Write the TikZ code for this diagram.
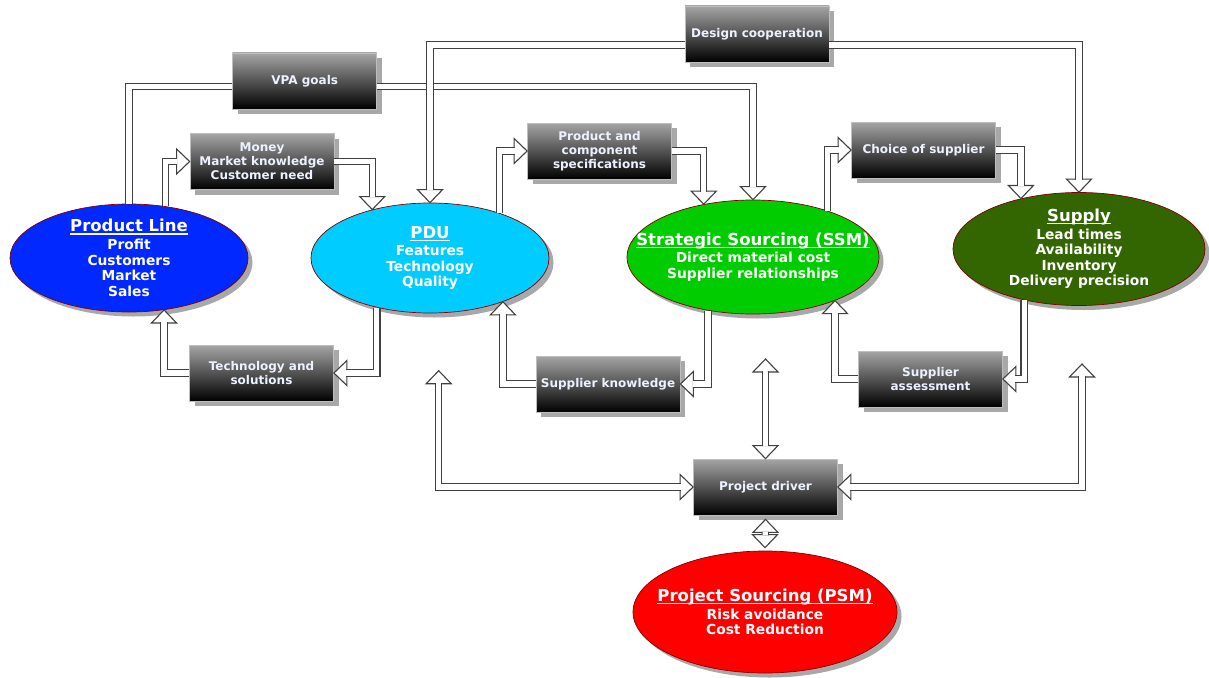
\documentclass[tikz,border=0pt]{standalone}
\usepackage{fontspec}
\setmainfont{DejaVu Sans}
\usetikzlibrary{shapes.geometric,shadows,calc}

\definecolor{linecol}{RGB}{64,64,64}
\definecolor{shadowcol}{RGB}{168,168,168}
\definecolor{boxtop}{RGB}{165,165,165}
\definecolor{boxedge}{RGB}{190,190,190}
\definecolor{boxtext}{RGB}{236,241,255}
\definecolor{rimcol}{RGB}{128,0,0}
\definecolor{plblue}{RGB}{0,40,255}
\definecolor{pducyan}{RGB}{0,204,255}
\definecolor{ssmgreen}{RGB}{0,204,0}
\definecolor{supgreen}{RGB}{51,102,0}
\definecolor{psmred}{RGB}{255,0,0}

% underlined ellipse title
\newcommand\ulx[1]{\setbox0=\hbox{#1}\rlap{\rule[-2.6pt]{\wd0}{1.1pt}}\box0}
\newcommand\ttl[1]{{\fontsize{16.5}{18}\selectfont\ulx{#1}}}

\tikzset{
  ellnode/.style={ellipse, inner sep=0pt, draw=rimcol, line width=0.7pt,
    drop shadow={shadow xshift=4.5pt, shadow yshift=-4.5pt, fill=shadowcol, opacity=1}},
  elltxt/.style={text=white, align=center, inner sep=0pt,
    font=\bfseries\fontsize{13.8}{15.6}\selectfont},
  boxnode/.style={rectangle, minimum width=144pt, minimum height=56pt, inner sep=0pt,
    draw=boxedge, line width=0.8pt, top color=boxtop, bottom color=black,
    drop shadow={shadow xshift=5pt, shadow yshift=-5pt, fill=shadowcol, opacity=1},
    text=boxtext, align=center, font=\bfseries\fontsize{12}{14}\selectfont},
  shaft/.style={draw=linecol, line width=1.1pt, double=white, double distance=5.2pt, line join=miter},
  tipend/.style={shorten >=12.4pt},
  tipstart/.style={shorten <=12.4pt},
  tipshape/.style={draw=linecol, fill=white, line width=1.1pt, line join=miter},
  head/.pic={\path[tipshape] (0,0) -- (-13,12.5) -- (-13,-12.5) -- cycle;}
}

\begin{document}
\begin{tikzpicture}[x=1pt,y=-1pt]
\useasboundingbox (0,0) rectangle (1209,677);
\fill[white] (0,0) rectangle (1209,677);

% ---- ellipses ----
\node[ellnode, fill=plblue,   minimum width=238pt, minimum height=108pt] (pl)  at (129,258) {};
\node[ellnode, fill=pducyan,  minimum width=238pt, minimum height=110pt] (pdu) at (430,258) {};
\node[ellnode, fill=ssmgreen, minimum width=252pt, minimum height=114pt] (ssm) at (753,257) {};
\node[ellnode, fill=supgreen, minimum width=252pt, minimum height=113pt] (sup) at (1079,249) {};
\node[ellnode, fill=psmred,   minimum width=264pt, minimum height=122pt] (psm) at (765,612) {};

\node[elltxt] (pl-t)  at (pl)  {\ttl{Product Line}\\[2pt]Profit\\Customers\\Market\\Sales};
\node[elltxt] (pdu-t) at (pdu) {\ttl{PDU}\\[2pt]Features\\Technology\\Quality};
\node[elltxt] (ssm-t) at (ssm) {\ttl{Strategic Sourcing (SSM)}\\[2pt]Direct material cost\\Supplier relationships};
\node[elltxt] (sup-t) at (sup) {\ttl{Supply}\\[2pt]Lead times\\Availability\\Inventory\\Delivery precision};
\node[elltxt] (psm-t) at (psm) {\ttl{Project Sourcing (PSM)}\\[2pt]Risk avoidance\\Cost Reduction};

% ---- boxes ----
\node[boxnode] (vpa) at (304.7,81)   {VPA goals};
\node[boxnode] (des) at (757,34)     {Design cooperation};
\node[boxnode] (mon) at (262,161.5)  {Money\\Market knowledge\\Customer need};
\node[boxnode] (tec) at (261.5,373)  {Technology and\\solutions};
\node[boxnode] (pcs) at (599.5,151)  {Product and\\component\\specifications};
\node[boxnode] (skn) at (608,384)    {Supplier knowledge};
\node[boxnode] (cos) at (923.5,150)  {Choice of supplier};
\node[boxnode] (sas) at (930.5,379)  {Supplier\\assessment};
\node[boxnode] (pd)  at (765.5,487)  {Project driver};

% ---- VPA goals: Product Line -> SSM ----
\draw[shaft] (pl.north) |- ($(vpa.west)+(0,5.7)$);
\pic[rotate=-90] at (ssm.north) {head};
\draw[shaft, tipend] ($(vpa.east)+(0,5.7)$) -| (ssm.north);

% ---- Design cooperation: PDU <-> Supply ----
\pic[rotate=-90] at (pdu.north) {head};
\draw[shaft, tipend] ($(des.west)+(0,11)$) -| (pdu.north);
\pic[rotate=-90] at (sup.north) {head};
\draw[shaft, tipend] ($(des.east)+(0,11)$) -| (sup.north);

% ---- Product Line -> PDU ----
\pic at (mon.west) {head};
\draw[shaft, tipend] (pl.55.4) |- (mon.west);
\pic[rotate=-90] at (pdu.140.7) {head};
\draw[shaft, tipend] (mon.east) -| (pdu.140.7);

% ---- PDU -> Product Line ----
\pic[rotate=180] at (tec.east) {head};
\draw[shaft, tipend] (pdu.223.9) |- (tec.east);
\pic[rotate=90] at (pl.304.6) {head};
\draw[shaft, tipend] (tec.west) -| (pl.304.6);

% ---- PDU -> SSM ----
\pic at (pcs.west) {head};
\draw[shaft, tipend] (pdu.33) |- (pcs.west);
\pic[rotate=-90] at (ssm.133.7) {head};
\draw[shaft, tipend] (pcs.east) -| (ssm.133.7);

% ---- SSM -> PDU ----
\pic[rotate=180] at (skn.east) {head};
\draw[shaft, tipend] (ssm.230.5) |- (skn.east);
\pic[rotate=90] at (pdu.329.3) {head};
\draw[shaft, tipend] (skn.west) -| (pdu.329.3);

% ---- SSM -> Supply ----
\pic at (cos.west) {head};
\draw[shaft, tipend] (ssm.32.7) |- (cos.west);
\pic[rotate=-90] at (sup.139.5) {head};
\draw[shaft, tipend] (cos.east) -| (sup.139.5);

% ---- Supply -> SSM ----
\pic[rotate=180] at (sas.east) {head};
\draw[shaft, tipend] (sup.223.7) |- (sas.east);
\pic[rotate=90] at (ssm.332.5) {head};
\draw[shaft, tipend] (sas.west) -| (ssm.332.5);

% ---- Project driver links ----
\coordinate (pdl)  at (438.7,370.7);
\coordinate (pdr)  at (1082,364);
\coordinate (pdt)  at (765.5,359);
\coordinate (pdb)  at ($(pd.south)+(0,4)$);
\coordinate (psmt) at ($(psm.north)+(0,-3)$);

\pic[rotate=90] at (pdl) {head};
\pic at (pd.west) {head};
\draw[shaft, tipstart, tipend] (pdl) |- (pd.west);

\pic[rotate=90] at (pdr) {head};
\pic[rotate=180] at (pd.east) {head};
\draw[shaft, tipstart, tipend] (pdr) |- (pd.east);

\pic[rotate=90] at (pdt) {head};
\pic[rotate=-90] at (pd.north) {head};
\draw[shaft, tipstart, tipend] (pdt) -- (pd.north);

\pic[rotate=90] at (pdb) {head};
\pic[rotate=-90] at (psmt) {head};
\draw[shaft, tipstart, tipend] (pdb) -- (psmt);
\end{tikzpicture}
\end{document}
